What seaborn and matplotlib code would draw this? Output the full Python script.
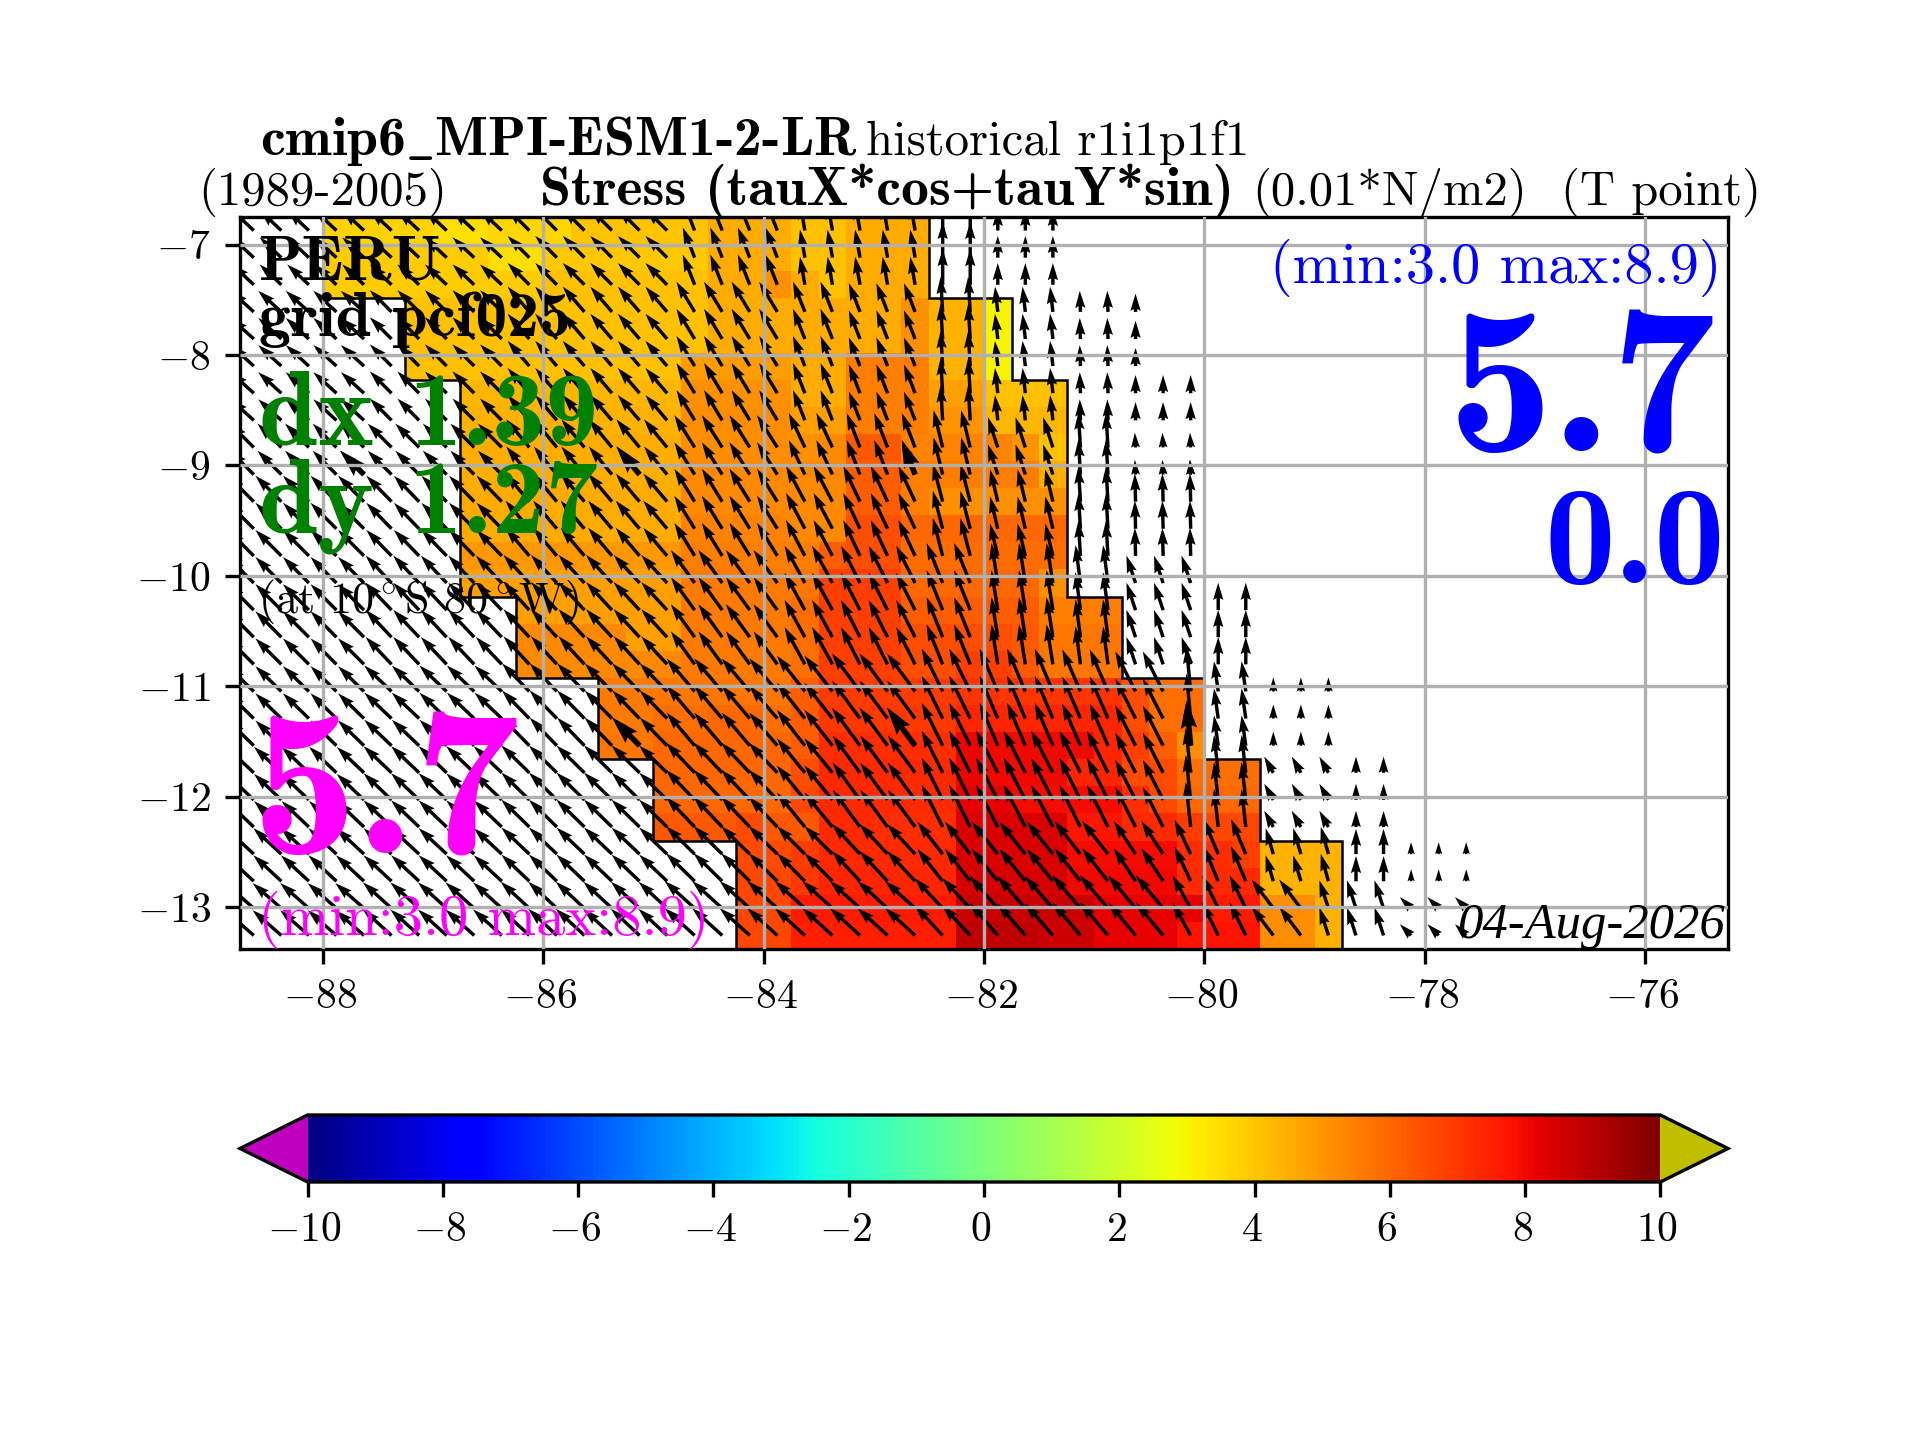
import numpy as np
import matplotlib
matplotlib.use("Agg")
import matplotlib.pyplot as plt
import matplotlib.transforms as mtransforms
import seaborn as sns

# colored cells, one row per lat band from the south, 22 cells each
row_start = [18, 18, 18, 18, 15, 15, 15, 13, 13, 13, 10, 10, 10,
             8, 8, 8, 8, 8, 8, 8, 8, 6, 6, 6, 3, 3, 3]
tau_rows = [
    [6.7]*2 + [7.5]*6 + [8.9]*3 + [8.6]*2 + [8.2]*3 + [7.8]*3 + [5.2]*2 + [4.4],
    [6.7]*2 + [7.6]*6 + [8.7]*5 + [8.2]*4 + [7.6]*2 + [5.2]*2 + [4.4],
    [6.7]*2 + [7.0] + [7.4]*5 + [8.5]*4 + [8.0]*4 + [7.3]*3 + [4.4]*3,
    [6.6]*2 + [6.9] + [7.3]*5 + [8.4]*4 + [7.9]*4 + [7.2]*2 + [6.8] + [4.4]*3,
    [6.3]*3 + [6.6] + [6.3]*2 + [7.3]*2 + [7.2]*3 + [8.4]*4 + [7.7]*2 + [7.3]*2 + [6.9] + [6.7]*2,
    [6.0]*5 + [6.7] + [7.3]*5 + [8.2]*2 + [7.9]*4 + [7.2] + [6.7] + [6.0]*3,
    [6.0]*5 + [6.5] + [7.3]*5 + [8.1] + [8.0]*3 + [7.35]*2 + [6.6]*2 + [5.8]*3,
    [5.7]*2 + [5.95]*5 + [6.2] + [7.2]*5 + [8.1] + [8.0]*4 + [7.35] + [6.85] + [6.2] + [5.2],
    [5.6]*2 + [5.85]*2 + [6.0]*2 + [5.8] + [6.2] + [7.0]*5 + [7.35]*6 + [6.5] + [5.8]*2,
    [5.6]*2 + [5.7]*5 + [6.2] + [6.9]*5 + [7.1]*6 + [6.5] + [5.8]*2,
    [5.3]*6 + [5.6]*4 + [5.8] + [6.85]*3 + [6.5]*2 + [6.85]*2 + [6.3] + [5.7]*3,
    [5.3]*4 + [4.8]*2 + [5.6]*4 + [5.8] + [6.85]*3 + [6.5]*4 + [6.3] + [5.7]*3,
    [4.8]*6 + [5.6]*4 + [5.9] + [6.85]*3 + [6.2]*5 + [5.5]*3,
    [4.8]*8 + [5.6]*4 + [5.7] + [6.85]*3 + [6.0]*5 + [5.15],
    [4.95]*8 + [5.5]*5 + [6.2] + [6.5]*2 + [5.9]*6,
    [4.6]*8 + [5.4]*4 + [5.3]*2 + [6.5]*2 + [6.0]*6,
    [4.6]*8 + [5.3]*6 + [6.2]*2 + [5.5] + [5.15]*5,
    [4.5]*8 + [5.3]*6 + [6.2]*2 + [5.5]*5 + [4.5],
    [4.5]*8 + [5.2]*4 + [5.15] + [5.3] + [6.3]*2 + [5.4]*4 + [5.0] + [4.1],
    [4.4]*8 + [5.2]*4 + [4.8]*2 + [5.5]*3 + [5.0]*2 + [4.3]*3,
    [4.3]*8 + [5.1]*4 + [4.6]*2 + [5.5]*3 + [4.8]*2 + [4.1]*3,
    [4.1]*10 + [4.9]*4 + [4.6]*2 + [5.5]*3 + [4.4]*2 + [3.0],
    [4.1]*11 + [4.6]*7 + [5.15] + [4.4]*2 + [3.0],
    [4.1]*11 + [4.6]*7 + [5.15] + [4.4]*2 + [3.0],
    [3.9]*8 + [4.1]*6 + [4.6]*2 + [5.1] + [4.6] + [4.1] + [4.6]*3,
    [3.9]*6 + [3.45]*2 + [3.95]*6 + [4.6]*3 + [4.1]*2 + [4.6]*3,
    [3.7]*4 + [3.45]*2 + [3.6]*3 + [4.0]*5 + [4.6]*3 + [4.1]*2 + [4.6]*3,
]

# stress vectors, the field comes in blocks like the coarse model grid
col_band = [5, 5, 6, 4, 2, 3, 2, 3, 2, 2, 1, 2, 2, 1, 2, 3]
row_band = [2, 2, 3, 3, 4, 3, 2, 5, 3]
tau_x = [
    [-4.1, -4.1, -4.1, -4.3, -4.3, -4.3, -4.0, -4.0, -4.0, -3.9, -2.6, -2.3, -3.1, -1.3, -1.3, -1.6],
    [-4.0, -4.0, -4.0, -4.1, -4.0, -4.0, -3.6, -3.7, -3.7, -3.1, -2.3, -2.1, -1.1, -1.1, 0, 0],
    [-3.9, -4.0, -4.0, -4.1, -4.0, -3.9, -3.0, -3.1, -3.0, -2.9, -0.7, -0.6, -1.3, -1.3, 0, 0],
    [-3.7, -3.9, -3.9, -4.0, -4.0, -4.0, -3.0, -2.6, -2.6, -2.9, -0.6, -0.6, 0, 0, 0, 0],
    [-3.7, -3.7, -3.7, -3.4, -2.9, -2.7, -2.3, -0.9, -0.7, -1.3, -1.3, 0, 0, 0, 0, 0],
    [-3.7, -3.6, -3.4, -2.9, -2.7, -2.4, -1.4, -1.1, -0.3, -0.1, -0.1, 0, 0, 0, 0, 0],
    [-3.4, -3.4, -3.3, -2.9, -2.3, -1.9, -1.3, -1.4, -0.3, -0.1, -0.1, 0, 0, 0, 0, 0],
    [-3.3, -3.1, -3.1, -2.6, -1.7, -1.6, -0.3, -0.4, -0.1, 0, 0, 0, 0, 0, 0, 0],
    [-3.1, -3.1, -3.1, -1.7, -0.7, -0.7, 0, 0, 0, 0, 0, 0, 0, 0, 0, 0],
]
tau_y = [
    [3.6, 3.7, 3.8, 3.9, 3.9, 3.9, 4.3, 4.6, 4.7, 4.7, 4.7, 4.7, 4.1, 4.0, 4.0, 1.6],
    [3.7, 3.7, 3.8, 4.0, 4.0, 4.3, 4.6, 4.6, 4.7, 4.7, 4.9, 5.0, 3.7, 3.9, 3.6, 1.7],
    [3.7, 3.8, 3.9, 4.3, 4.9, 5.3, 6.0, 6.0, 6.0, 5.7, 6.4, 5.4, 2.3, 2.3, 2.3, 0],
    [3.6, 3.7, 4.0, 4.7, 5.1, 5.4, 6.1, 6.1, 6.0, 5.7, 6.4, 4.3, 2.0, 2.0, 0, 0],
    [3.7, 3.9, 4.0, 4.7, 5.3, 5.3, 5.7, 5.7, 5.4, 3.9, 3.9, 3.9, 0, 0, 0, 0],
    [3.7, 3.7, 4.0, 4.7, 5.1, 5.1, 5.4, 4.6, 5.0, 4.0, 4.0, 0, 0, 0, 0, 0],
    [3.4, 3.4, 4.0, 4.6, 4.9, 4.9, 5.3, 4.3, 5.0, 2.1, 2.1, 0, 0, 0, 0, 0],
    [3.0, 3.1, 3.6, 4.3, 4.3, 4.1, 5.0, 3.6, 3.0, 2.6, 2.6, 0, 0, 0, 0, 0],
    [2.9, 2.9, 3.1, 4.3, 4.0, 4.0, 5.1, 3.1, 3.0, 0, 0, 0, 0, 0, 0, 0],
]
# highest row that still has a vector, per column
arrow_top = [26]*30 + [23]*3 + [20]*2 + [12]*2 + [9]*3 + [6]*2 + [3]*3
# the few heavier arrows
bold_cols = [14, 24, 34, 4, 14, 24, 34]
bold_rows = [7, 7, 7, 17, 17, 17, 17]

x_ticks = [-88, -86, -84, -82, -80, -78, -76]
y_ticks = [-13, -12, -11, -10, -9, -8, -7]
cbar_ticks = [-10, -8, -6, -4, -2, 0, 2, 4, 6, 8, 10]

sns.set_theme(style="ticks", rc={
    "axes.linewidth": 0.8, "xtick.major.size": 3.5, "ytick.major.size": 3.5,
    "xtick.major.width": 0.8, "ytick.major.width": 0.8,
    "xtick.labelsize": 10, "ytick.labelsize": 10, "font.size": 10,
    "text.color": "black", "xtick.color": "black", "ytick.color": "black",
    "axes.edgecolor": "black", "axes.labelcolor": "black",
    "grid.color": "#b0b0b0", "grid.linewidth": 0.8,
    "axes.formatter.use_mathtext": True, "mathtext.fontset": "cm",
})
plt.rcParams["font.family"] = ["cmr10", "DejaVu Sans"]

lon_edges = np.arange(-88.75, -77.25, 0.25)
lat_edges = np.linspace(-13.38, -6.75, 28)
lon = 0.5 * (lon_edges[:-1] + lon_edges[1:])
lat = 0.5 * (lat_edges[:-1] + lat_edges[1:])

field = np.full((27, 45), np.nan)
for k, row in enumerate(tau_rows):
    field[k, row_start[k]:row_start[k] + len(row)] = row

U = np.repeat(np.repeat(np.array(tau_x), row_band, axis=0), col_band, axis=1)
V = np.repeat(np.repeat(np.array(tau_y), row_band, axis=0), col_band, axis=1)
for i, top in enumerate(arrow_top):
    U[top + 1:, i] = np.nan
    V[top + 1:, i] = np.nan

cmap = matplotlib.colormaps["jet"].with_extremes(under="#bf00bf", over="#bfbf00", bad="white")

fig = plt.figure(figsize=(6.4, 4.8), dpi=300)
ax = fig.add_axes([240 / 1920, 1 - 949 / 1440, 1488 / 1920, 732 / 1440])
mesh = ax.pcolormesh(lon_edges, lat_edges, field, cmap=cmap, vmin=-10, vmax=10)

lefts = lon_edges[row_start]
rights = lon_edges[np.array(row_start) + 22]
ax.stairs(lefts, lat_edges, orientation="horizontal", baseline=None, color="black", lw=0.6)
ax.stairs(rights, lat_edges, orientation="horizontal", baseline=None, color="black", lw=0.6)

ax.quiver(lon, lat, U, V, angles="xy", scale_units="xy", scale=15.75, width=0.0023, color="black")
ax.quiver(lon[bold_cols], lat[bold_rows], U[bold_rows, bold_cols], V[bold_rows, bold_cols],
          angles="xy", scale_units="xy", scale=15.75, width=0.0037, color="black")

ax.set_xlim(-88.75, -75.25)
ax.set_ylim(-13.38, -6.75)
ax.set_xticks(x_ticks)
ax.set_yticks(y_ticks)
ax.grid(True)
ax.set_axisbelow(False)


def put(x, y, s, size, color="black", ha="left", family=None, **kw):
    # x, y are pixels of the 1920x1440 figure, y at the baseline
    fig.text(x / 1920, 1 - y / 1440, s, fontsize=size, color=color, ha=ha, va="baseline",
             family=family or "cmr10", **kw)


put(260, 155, r"cmip6$\_$MPI-ESM1-2-LR", 13.4, family="cmb10")
put(866, 155, "historical r1i1p1f1", 11.7)
put(198, 205, "(1989-2005)", 11.7)
put(540, 205, "Stress (tauX*cos+tauY*sin)", 13.4, family="cmb10")
put(1252, 205, "(0.01*N/m2)", 11.7)
put(1561, 205, "(T point)", 11.7)

put(259, 280, "PERU", 15.3, family="cmb10")
put(259, 336, "grid pcf025", 15.3, family="cmb10")
put(259, 445, "dx 1.39", 25.5, color="green", family="cmb10")
put(259, 533, "dy 1.27", 25.5, color="green", family="cmb10")
put(258, 613, r"(at 10$^\circ$S 80$^\circ$W)", 10.6)
put(252, 853, "5.7", 50.5, color="magenta", family="cmb10")
put(258, 935, "(min:3.0 max:8.9)", 14.0, color="magenta")

put(1722, 283, "(min:3.0 max:8.9)", 14.0, color="blue", ha="right")
put(1716, 452, "5.7", 50.5, color="blue", ha="right", family="cmb10")
put(1725, 583, "0.0", 34, color="blue", ha="right", family="cmb10")
put(1725, 938, "04-Aug-2026", 12.2, ha="right", family="Liberation Serif", style="italic")

cax = fig.add_axes([240 / 1920, 1 - 1182 / 1440, 1488 / 1920, 67 / 1440])
cbar = fig.colorbar(mesh, cax=cax, orientation="horizontal", extend="both")
cbar.set_ticks(cbar_ticks)

# tick labels sit a little left of where mathtext centres them
nudge = mtransforms.ScaledTranslation(-3 / 300, 0, fig.dpi_scale_trans)
for label in ax.get_xticklabels() + cax.get_xticklabels():
    label.set_transform(label.get_transform() + nudge)

fig.savefig("out.png", dpi=300)
print("saved out.png")
